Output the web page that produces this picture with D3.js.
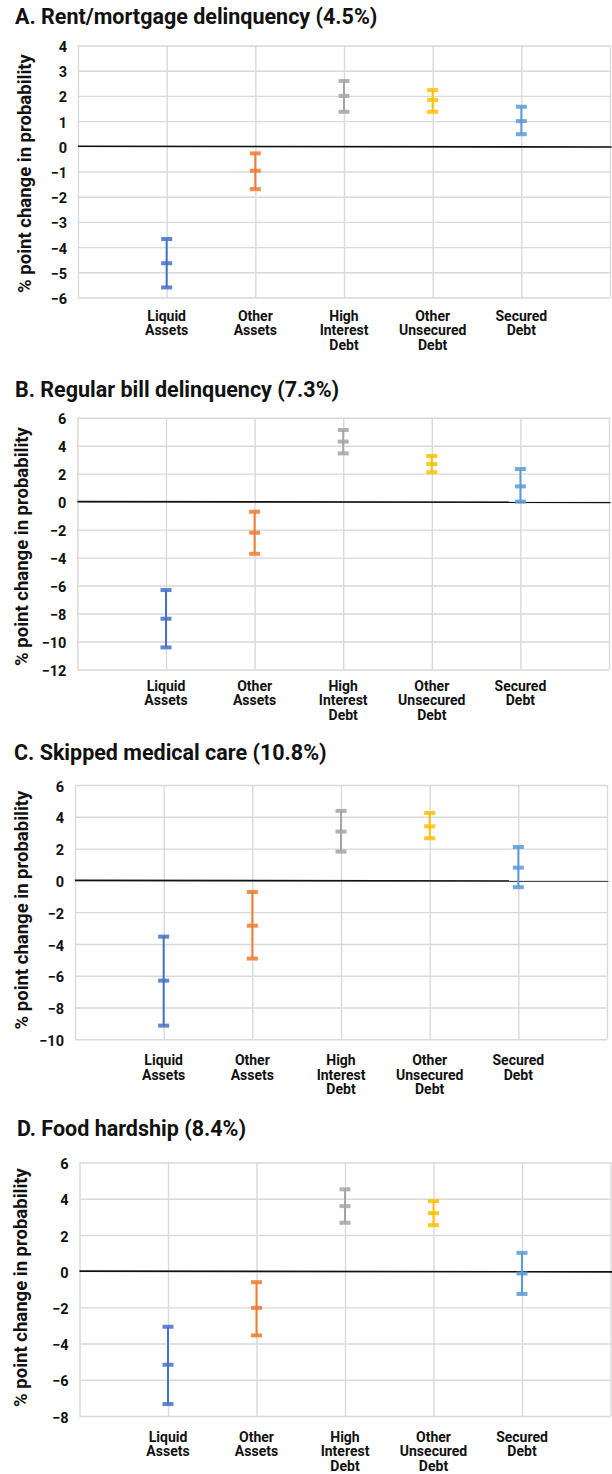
<!DOCTYPE html>
<html><head><meta charset="utf-8">
<script src="https://cdn.jsdelivr.net/npm/d3@7"></script>
<style>body{margin:0;background:#fff} svg{display:block}</style>
</head><body><svg id="c" width="612" height="1474"></svg>
<script>
// ---------- data ----------
const categories = [["Liquid","Assets"],["Other","Assets"],["High","Interest","Debt"],["Other","Unsecured","Debt"],["Secured","Debt"]];
const panelTitles = ["A. Rent/mortgage delinquency (4.5%)","B. Regular bill delinquency (7.3%)","C. Skipped medical care (10.8%)","D. Food hardship (8.4%)"];
const yAxisTitle = "% point change in probability";
const ticksA = [4,3,2,1,0,-1,-2,-3,-4,-5,-6];
const ticksB = [6,4,2,0,-2,-4,-6,-8,-10,-12];
const ticksC = [6,4,2,0,-2,-4,-6,-8,-10];
const ticksD = [6,4,2,0,-2,-4,-6,-8];
const estA  = [-4.64,-0.97,2.00,1.84,1.00];
const lowA  = [-5.60,-1.70,1.37,1.37,0.48];
const highA = [-3.68,-0.28,2.59,2.23,1.57];
const estB  = [-8.37,-2.22,4.29,2.69,1.09];
const lowB  = [-10.42,-3.73,3.45,2.10,0.00];
const highB = [-6.32,-0.72,5.12,3.26,2.33];
const estC  = [-6.31,-2.85,3.07,3.40,0.80];
const lowC  = [-9.14,-4.92,1.81,2.65,-0.43];
const highC = [-3.54,-0.73,4.37,4.24,2.10];
const estD  = [-5.17,-2.03,3.59,3.20,-0.13];
const lowD  = [-7.34,-3.55,2.67,2.54,-1.26];
const highD = [-3.07,-0.61,4.52,3.87,1.01];

// ---------- styles / layout ----------
const seriesColors = ["#4472C4","#ED7D31","#A5A5A5","#FFC000","#5B9BD5"];
const panels = [
  {ticks:ticksA, est:estA, low:lowA, high:highA, tx:15, ty:24,   x0:78,   x1:610,   yT:45.5,  yB:297.5, lab:320.5, ytx:25,   yty:173.5},
  {ticks:ticksB, est:estB, low:lowB, high:highB, tx:15, ty:397,  x0:77.4, x1:609,   yT:417.7, yB:669.5, lab:690.7, ytx:21.5, yty:546.5},
  {ticks:ticksC, est:estC, low:lowC, high:highC, tx:14, ty:760,  x0:75,   x1:607,   yT:785,   yB:1039.3,lab:1065,  ytx:21.5, yty:910},
  {ticks:ticksD, est:estD, low:lowD, high:highD, tx:17, ty:1136, x0:79.5, x1:610.5, yT:1162.5,yB:1416,  lab:1441.7,ytx:20.5, yty:1287.5}
];
const labelFont = "Roboto, 'Liberation Sans', Arial, sans-serif";
const titleFont = "Roboto, 'Liberation Sans', Arial, sans-serif";

const svg = d3.select("#c");

panels.forEach((p, pi) => {
  const g = svg.append("g");
  const x = d3.scaleLinear().domain([0, 6]).range([p.x0, p.x1]);
  const ext = d3.extent(p.ticks);
  const y = d3.scaleLinear().domain([ext[0], ext[1]]).range([p.yB, p.yT]);

  // vertical gridlines
  const gx = g.append("g").attr("transform", `translate(0,${p.yB})`)
    .call(d3.axisBottom(x).tickValues(d3.range(0, 7)).tickSize(-(p.yB - p.yT)).tickFormat(""));
  gx.select(".domain").remove();
  gx.selectAll("line").attr("stroke", "#d9d9d9").attr("stroke-width", 1.4);

  // horizontal gridlines + tick labels
  const gy = g.append("g").attr("transform", `translate(${p.x0},0)`)
    .call(d3.axisLeft(y).tickValues(p.ticks).tickSize(-(p.x1 - p.x0)).tickPadding(11).tickFormat(d3.format("d")));
  gy.select(".domain").remove();
  gy.selectAll("line").attr("stroke", "#d9d9d9").attr("stroke-width", 1.4);
  gy.selectAll("text").attr("font-family", labelFont).attr("font-weight", 700)
    .attr("font-size", 14.5).attr("fill", "#111").attr("dy", "0.42em");

  // zero line
  g.append("line").attr("x1", p.x0).attr("x2", p.x1 + 1.5)
    .attr("y1", y(0)).attr("y2", y(0) + 0.7).attr("stroke", "#111").attr("stroke-width", 1.6);

  // error bars
  const bars = g.append("g").selectAll("g").data(p.est.map((e, i) => ({i, e, lo: p.low[i], hi: p.high[i]})))
    .join("g").attr("fill", d => seriesColors[d.i]).attr("stroke", d => seriesColors[d.i]);
  bars.append("line").attr("x1", d => x(d.i + 1)).attr("x2", d => x(d.i + 1))
    .attr("y1", d => y(d.lo)).attr("y2", d => y(d.hi)).attr("stroke-width", 2);
  ["lo","hi","e"].forEach(k => {
    bars.append("rect").attr("x", d => x(d.i + 1) - 5.5).attr("y", d => y(d[k]) - 2)
      .attr("width", 11).attr("height", 4).attr("stroke", "none").attr("opacity", 0.85);
  });

  // category labels
  const cl = g.append("g").selectAll("text").data(categories).join("text")
    .attr("text-anchor", "middle").attr("font-family", labelFont).attr("font-weight", 700)
    .attr("font-size", 14).attr("fill", "#111")
    .attr("transform", (d, i) => `translate(${x(i + 1)},${p.lab})`);
  cl.selectAll("tspan").data(d => d).join("tspan").attr("x", 0).attr("dy", (d, j) => j ? 14.6 : 0).text(d => d);

  // y-axis title
  g.append("text").attr("transform", `translate(${p.ytx},${p.yty}) rotate(-90)`)
    .attr("text-anchor", "middle").attr("dy", "0.35em")
    .attr("font-family", labelFont).attr("font-weight", 700).attr("font-size", 18.5).attr("fill", "#111")
    .text(yAxisTitle);

  // panel title
  g.append("text").attr("x", p.tx).attr("y", p.ty)
    .attr("font-family", titleFont).attr("font-weight", 700).attr("font-size", 21.5).attr("fill", "#111")
    .text(panelTitles[pi]);
});
</script>
</body></html>
